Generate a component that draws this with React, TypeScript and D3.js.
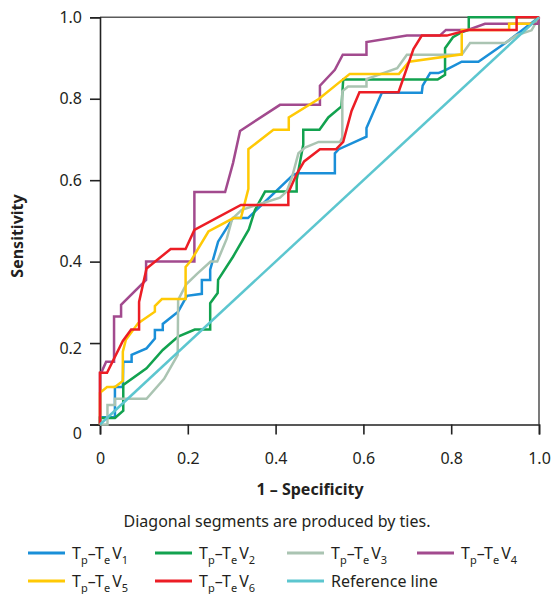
import React, { useEffect, useRef } from 'react';
import * as d3 from 'd3';

// ROC curves, points are [1 - specificity, sensitivity]
const v1Points: [number, number][] = [
  [0, 0], [0, 0.018], [0.034, 0.018], [0.034, 0.092], [0.052, 0.092], [0.053, 0.154], [0.072, 0.154],
  [0.072, 0.171], [0.106, 0.187], [0.125, 0.211], [0.125, 0.232], [0.143, 0.232], [0.143, 0.247],
  [0.178, 0.277], [0.198, 0.316], [0.232, 0.321], [0.232, 0.355], [0.251, 0.355], [0.251, 0.38],
  [0.269, 0.449], [0.303, 0.507], [0.337, 0.507], [0.44, 0.613], [0.451, 0.617], [0.535, 0.617],
  [0.535, 0.666], [0.544, 0.676], [0.607, 0.707], [0.607, 0.728], [0.642, 0.815], [0.733, 0.815],
  [0.735, 0.832], [0.752, 0.863], [0.771, 0.863], [0.788, 0.871], [0.824, 0.891], [0.862, 0.891],
  [0.929, 0.941], [1, 1]
];
const v2Points: [number, number][] = [
  [0, 0], [0, 0.016], [0.034, 0.016], [0.053, 0.034], [0.053, 0.097], [0.106, 0.138], [0.143, 0.183],
  [0.178, 0.216], [0.216, 0.233], [0.251, 0.233], [0.251, 0.298], [0.268, 0.323], [0.269, 0.355],
  [0.303, 0.412], [0.339, 0.479], [0.353, 0.527], [0.376, 0.572], [0.448, 0.572], [0.448, 0.601],
  [0.463, 0.687], [0.463, 0.724], [0.5, 0.724], [0.52, 0.754], [0.55, 0.781], [0.554, 0.847],
  [0.769, 0.847], [0.786, 0.859], [0.786, 0.924], [0.804, 0.951], [0.825, 0.964], [0.84, 0.969],
  [0.84, 1], [1, 1]
];
const v3Points: [number, number][] = [
  [0, 0], [0.017, 0], [0.017, 0.048], [0.034, 0.048], [0.034, 0.063], [0.106, 0.063], [0.146, 0.112],
  [0.177, 0.171], [0.178, 0.306], [0.197, 0.345], [0.221, 0.37], [0.252, 0.4], [0.267, 0.4],
  [0.289, 0.457], [0.301, 0.505], [0.323, 0.527], [0.357, 0.539], [0.41, 0.557], [0.425, 0.572],
  [0.437, 0.606], [0.452, 0.666], [0.467, 0.68], [0.498, 0.694], [0.547, 0.694], [0.552, 0.705],
  [0.552, 0.818], [0.565, 0.83], [0.607, 0.83], [0.607, 0.848], [0.677, 0.875], [0.699, 0.908],
  [0.824, 0.908], [0.843, 0.937], [0.923, 0.937], [0.949, 0.956], [0.983, 0.968], [1, 1]
];
const v4Points: [number, number][] = [
  [0, 0], [0, 0.127], [0.004, 0.13], [0.014, 0.154], [0.032, 0.154], [0.032, 0.265], [0.048, 0.265],
  [0.048, 0.294], [0.105, 0.355], [0.105, 0.4], [0.215, 0.4], [0.215, 0.571], [0.285, 0.571],
  [0.303, 0.642], [0.319, 0.721], [0.41, 0.785], [0.501, 0.785], [0.501, 0.832], [0.535, 0.871],
  [0.553, 0.908], [0.607, 0.908], [0.607, 0.939], [0.699, 0.955], [0.774, 0.955], [0.788, 0.969],
  [0.838, 0.969], [0.877, 0.984], [0.998, 0.984], [1, 1]
];
const v5Points: [number, number][] = [
  [0, 0], [0, 0.078], [0.016, 0.092], [0.034, 0.092], [0.052, 0.107], [0.052, 0.179], [0.059, 0.208],
  [0.087, 0.249], [0.125, 0.277], [0.125, 0.291], [0.141, 0.308], [0.195, 0.308], [0.195, 0.387],
  [0.207, 0.402], [0.247, 0.474], [0.304, 0.507], [0.321, 0.507], [0.338, 0.579], [0.338, 0.676],
  [0.395, 0.724], [0.43, 0.724], [0.43, 0.754], [0.499, 0.8], [0.569, 0.861], [0.681, 0.861],
  [0.704, 0.891], [0.824, 0.909], [0.824, 0.969], [0.932, 0.969], [0.932, 0.984], [0.984, 0.984],
  [1, 1]
];
const v6Points: [number, number][] = [
  [0, 0], [0, 0.127], [0.016, 0.127], [0.052, 0.205], [0.071, 0.233], [0.089, 0.233], [0.089, 0.301],
  [0.106, 0.383], [0.161, 0.431], [0.195, 0.431], [0.215, 0.478], [0.321, 0.539], [0.429, 0.539],
  [0.429, 0.569], [0.448, 0.615], [0.465, 0.646], [0.501, 0.676], [0.538, 0.676], [0.554, 0.694],
  [0.573, 0.77], [0.591, 0.816], [0.68, 0.816], [0.714, 0.922], [0.733, 0.955], [0.79, 0.955],
  [0.838, 0.969], [0.949, 0.969], [0.949, 1], [1, 1]
];
const refPoints: [number, number][] = [[0, 0], [1, 1]];

const seriesNames = ['V1', 'V2', 'V3', 'V4', 'V5', 'V6', 'Reference line'];
const seriesColors = ['#1a8fd8', '#12a24f', '#aac4b2', '#a24a8e', '#ffc905', '#ec1d25', '#5cc6cf'];
const tickValues = [0, 0.2, 0.4, 0.6, 0.8, 1.0];

const FONT = '"Noto Sans", "DejaVu Sans", sans-serif';

const App = () => {
  const ref = useRef<HTMLDivElement>(null);

  useEffect(() => {
    d3.select(ref.current).selectAll('svg').remove();

    const width = 554;
    const height = 594;
    const left = 100, right = 539, top = 17.3, bottom = 424.5;

    const svg = d3.select(ref.current)
      .append('svg')
      .attr('width', width)
      .attr('height', height)
      .style('display', 'block')
      .style('font-family', FONT);

    const x = d3.scaleLinear().domain([0, 1]).range([left, right]);
    const y = d3.scaleLinear().domain([0, 1]).range([bottom, top]);

    const fmt = (d: number) => (d === 0 ? '0' : d3.format('.1f')(d));

    // top / right frame
    svg.append('path')
      .attr('d', `M${left},${top}H${right}V${bottom}`)
      .attr('fill', 'none')
      .attr('stroke', '#5a5a5a')
      .attr('stroke-width', 1.6);

    // y axis
    const yAxis = svg.append('g')
      .attr('transform', `translate(${left},0)`)
      .call(d3.axisLeft(y).tickValues(tickValues).tickFormat(fmt as any).tickSize(10).tickPadding(8));
    yAxis.select('.domain').attr('stroke', '#222').attr('stroke-width', 1.6);
    yAxis.selectAll('.tick line').attr('stroke', '#222').attr('stroke-width', 1.6);
    yAxis.selectAll('.tick text')
      .attr('font-size', 16)
      .attr('fill', '#231f20')
      .attr('font-family', FONT)
      .attr('y', (d: any) => (d === 0 ? 9 : d === 0.2 ? 5 : 0));

    // x axis
    const xAxis = svg.append('g')
      .attr('transform', `translate(0,${bottom})`)
      .call(d3.axisBottom(x).tickValues(tickValues).tickFormat(fmt as any).tickSize(10).tickPadding(18));
    xAxis.select('.domain').attr('stroke', '#222').attr('stroke-width', 1.6);
    xAxis.selectAll('.tick line').attr('stroke', '#222').attr('stroke-width', 1.6);
    xAxis.selectAll('.tick text').attr('font-size', 16).attr('fill', '#231f20').attr('font-family', FONT);

    // curves
    const line = d3.line<[number, number]>()
      .x(d => x(d[0]))
      .y(d => y(d[1]));

    const allSeries = [v1Points, v2Points, v3Points, v4Points, v5Points, v6Points, refPoints];
    svg.append('g').selectAll('path')
      .data(allSeries).enter()
      .append('path')
      .attr('d', d => line(d))
      .attr('fill', 'none')
      .attr('stroke', (d, i) => seriesColors[i])
      .attr('stroke-width', 2.5)
      .attr('stroke-linejoin', 'miter');

    // axis titles
    svg.append('text')
      .attr('x', 310)
      .attr('y', 495)
      .attr('text-anchor', 'middle')
      .attr('font-size', 16)
      .attr('font-weight', 700)
      .attr('fill', '#231f20')
      .text('1 – Specificity');

    svg.append('text')
      .attr('transform', 'translate(23,236) rotate(-90)')
      .attr('text-anchor', 'middle')
      .attr('font-size', 16)
      .attr('font-weight', 700)
      .attr('fill', '#231f20')
      .text('Sensitivity');

    svg.append('text')
      .attr('x', 277)
      .attr('y', 527)
      .attr('text-anchor', 'middle')
      .attr('font-size', 16)
      .attr('fill', '#231f20')
      .text('Diagonal segments are produced by ties.');

    // legend
    const colX = [28, 155, 287, 417];
    const rowY = [553, 581];
    const legend = svg.append('g');
    seriesNames.forEach((name, i) => {
      const cx = colX[i % 4];
      const cy = rowY[Math.floor(i / 4)];
      legend.append('line')
        .attr('x1', cx).attr('x2', cx + 37)
        .attr('y1', cy).attr('y2', cy)
        .attr('stroke', seriesColors[i])
        .attr('stroke-width', 3);
      const t = legend.append('text')
        .attr('x', cx + 44)
        .attr('y', cy + 6)
        .attr('font-size', 16)
        .attr('fill', '#231f20');
      if (name === 'Reference line') {
        t.text(name);
      } else {
        t.append('tspan').text('T');
        t.append('tspan').attr('dy', 5).attr('font-size', 11).text('p');
        t.append('tspan').attr('dy', -5).text('–T');
        t.append('tspan').attr('dy', 5).attr('font-size', 11).text('e');
        t.append('tspan').attr('dy', -5).attr('dx', 2).text('V');
        t.append('tspan').attr('dy', 5).attr('font-size', 11).text(name.slice(1));
      }
    });
  }, []);

  return (
    <div ref={ref} style={{ position: 'absolute', left: 0, top: 0, width: 554, height: 594, background: '#fff' }}></div>
  );
};

export default App;
